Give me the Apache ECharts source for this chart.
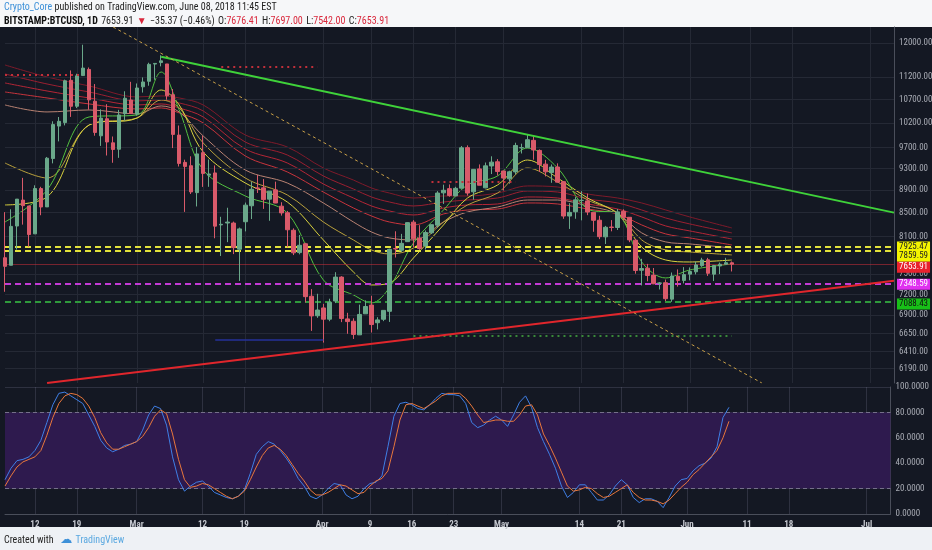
<!DOCTYPE html>
<html><head><meta charset="utf-8">
<script src="https://cdn.jsdelivr.net/npm/echarts@6/dist/echarts.min.js"></script>
<style>html,body{margin:0;padding:0;background:#141823}#c{width:932px;height:550px}</style>
</head><body><div id="c"></div>
<script>
// ---------- DATA ----------
const dates = [];
for (let t = Date.UTC(2018,1,7); t <= Date.UTC(2018,6,5); t += 86400000) dates.push(new Date(t).toISOString().slice(0,10));

const opens = [7755.49,7637.86,8271.84,8720.08,8616.13,8141.43,8926.72,8599.92,9488.32,10135.70,10207.50,11123.40,10552.60,11231.80,11372.20,10660.40,9937.07,10287.70,9796.42,9669.43,10393.90,10687.20,
10385.00,10977.40,11101.90,11497.40,11532.40,11500.10,10803.90,9951.44,9414.69,9350.59,8852.78,9602.93,9173.04,9214.65,8290.76,8322.91,8321.91,7890.52,8344.12,8619.67,8937.48,8939.44,8736.25,8901.95,8612.81,8498.47,8200.80,7836.83,7979.07,7171.45,6892.48,
7003.06,6844.86,7102.26,7456.41,6848.65,6815.96,6630.51,6919.98,7044.32,6795.44,6843.47,6955.38,7901.09,7874.67,8013.41,8337.57,8071.66,7944.43,8159.27,8286.88,8848.79,8925.06,8794.39,8934.01,9701.03,8867.32,9290.63,8939.27,9346.41,9426.11,
9251.47,9104.60,9233.97,9695.50,9700.28,9845.90,9645.67,9380.87,9223.73,9325.96,9052.96,8441.44,8515.49,8713.10,8705.19,8504.41,8370.05,8091.83,8255.73,8246.99,8522.33,8419.87,8037.08,7561.12,7592.30,7486.48,7362.08,7371.31,7129.46,7469.73,7406.15,
7500.70,7536.72,7632.09,7722.53,7500.90,7625.97,7653.08,7676.41];
const highs = [8509.11,8558.77,8736.98,9122.55,8616.13,8985.92,8958.47,9518.54,10234.80,10324.10,11139.50,11349.80,11273.80,11958.50,11418.50,11039.10,10487.30,10597.20,9923.22,10475.00,10878.50,11089.80,
11052.30,11189.00,11528.20,11512.60,11704.10,11500.10,10929.50,10147.40,9466.35,9531.32,9711.89,9937.50,9470.38,9355.85,8428.35,8585.15,8346.53,8245.51,8675.87,9051.02,9177.37,9100.71,8879.62,9052.96,8682.01,8530.08,8232.78,8122.89,7994.33,7276.24,7207.85,
7060.95,7135.47,7530.94,7469.88,6933.82,6857.49,7050.54,7111.56,7178.11,6872.41,6968.32,7899.23,8183.96,8140.71,8318.43,8371.15,8285.96,8197.80,8298.69,8880.23,8997.57,9001.64,8958.55,9732.61,9745.32,9281.51,9375.47,9412.09,9531.49,9477.14,
9255.88,9256.52,9798.33,9779.20,9964.50,9940.14,9665.85,9462.75,9374.76,9396.04,9052.96,8664.86,8773.55,8881.12,8836.19,8508.43,8445.54,8274.12,8372.06,8562.41,8557.52,8423.25,8054.66,7738.60,7659.14,7595.16,7381.74,7419.05,7526.42,7573.77,7608.90,
7604.73,7695.83,7754.89,7753.82,7643.23,7680.43,7753.99,7697.00];
const lows = [7236.79,7637.86,7884.71,8295.47,7931.10,8141.43,8455.41,8599.92,9395.58,9824.82,10149.40,10326.00,10513.20,11231.80,10479.10,9939.09,9734.56,9546.97,9407.06,9501.73,10246.10,10393.10,
10352.70,10850.10,11002.40,11136.10,11443.90,10694.30,9692.12,9335.87,8513.03,8828.47,8607.12,8956.43,8958.19,8068.59,7783.05,8005.25,7812.82,7397.99,8182.40,8389.89,8846.33,8564.90,8360.62,8665.64,8449.10,7921.43,7797.28,7809.17,7081.38,6683.93,6863.52,
6526.87,6816.58,7072.49,6803.88,6644.80,6575.00,6630.51,6919.98,6661.99,6704.15,6817.59,6806.51,7758.93,7846.00,8013.41,7925.73,7881.72,7886.01,8138.78,8244.54,8652.15,8779.61,8788.81,8927.47,8799.84,8727.09,8987.05,8931.99,9193.71,9166.81,
8891.05,9015.14,9188.15,9585.96,9695.12,9465.25,9231.53,9149.39,9031.62,9040.52,8394.33,8223.50,8395.11,8367.97,8456.45,8175.49,8054.12,7974.82,8183.35,8205.24,8365.12,8004.58,7507.88,7331.14,7392.65,7349.12,7270.96,7100.89,7090.68,7313.60,7361.13,
7407.34,7497.26,7613.04,7474.04,7397.00,7502.01,7653.08,7542.00];
const closes = [7621.30,8265.59,8736.98,8621.90,8129.97,8926.57,8598.31,9494.63,10166.40,10233.90,11112.70,10551.80,11225.30,11403.70,10690.40,10005.00,10301.10,9813.07,9664.73,10366.70,10725.60,10397.90,
10951.00,11086.40,11489.70,11512.60,11573.30,10779.90,9965.57,9395.01,9337.55,8866.00,9578.63,9205.12,9194.85,8269.81,8300.86,8338.35,7916.88,8223.68,8630.65,8913.47,8929.28,8728.47,8879.62,8668.12,8495.78,8209.40,7833.04,7954.48,7165.70,6890.52,6973.53,
6844.23,7083.80,7456.11,6853.84,6811.47,6636.32,6911.09,7023.52,6770.73,6834.76,6968.32,7889.25,7895.96,7986.24,8329.11,8058.67,7902.09,8163.42,8294.31,8845.83,8895.58,8802.46,8930.88,9697.50,8845.74,9281.51,8987.05,9348.48,9419.08,9240.55,
9119.01,9235.92,9743.86,9700.76,9858.15,9654.80,9373.01,9234.82,9325.18,9043.94,8441.49,8504.89,8723.94,8716.79,8510.38,8368.83,8094.32,8250.97,8247.18,8513.25,8418.99,8041.78,7557.82,7587.34,7480.14,7355.88,7368.22,7135.99,7472.59,7406.52,7494.17,
7541.45,7643.45,7720.25,7514.47,7633.76,7653.98,7678.24,7653.91];

// moving-average ribbon, read at key dates
const ribbonDates = ['2018-02-07','2018-02-14','2018-02-21','2018-03-01','2018-03-05','2018-03-08','2018-03-12','2018-03-19','2018-03-26','2018-04-01','2018-04-06','2018-04-09','2018-04-12','2018-04-16','2018-04-21','2018-04-25','2018-04-30','2018-05-05','2018-05-10','2018-05-15','2018-05-20','2018-05-24','2018-05-28','2018-06-01','2018-06-08'];
const maRed1 = [11476,11199,10997,10754,10776,10732,10580,9954,9713,9308,9083,8937,8846,8757,8793,8793,8846,8974,8955,8828,8757,8669,8546,8426,8240];
const maRed2 = [11268,11041,10863,10667,10688,10624,10452,9812,9557,9158,8918,8775,8686,8616,8686,8721,8757,8882,8864,8739,8669,8546,8408,8307,8157];
const maRed3 = [11064,10885,10732,10580,10602,10516,10325,9674,9403,9010,8757,8616,8529,8460,8581,8634,8651,8775,8757,8651,8563,8426,8273,8190,8057];
const maRed4 = [10863,10732,10602,10494,10516,10410,10200,9538,9233,8864,8581,8443,8340,8290,8477,8546,8563,8669,8651,8563,8477,8290,8140,8074,7960];
const maTan  = [10580,10431,10473,10389,10559,10431,9933,9270,9028,8669,8340,8173,8074,8041,8340,8512,8598,8721,8721,8616,8477,8157,8009,7976,7911];
const maOrange=[9403,9120,10158,10304,10688,10516,9793,9120,8811,8340,8041,7879,7815,7911,8340,8634,8846,9308,9046,8721,8495,8041,7879,7847,7800];
const maYellow=[8634,8775,10158,10304,10907,10580,9615,9028,8686,8041,7535,7338,7368,7752,8290,8757,8992,9460,9120,8757,8477,7928,7720,7689,7720];
const maGreen = [8340,8900,10325,10368,11313,10473,9270,8793,8494,7413,7190,7074,7300,7992,8546,8992,9158,9694,9308,8563,8477,7689,7443,7565,7658];

// stochastic RSI
const stochK = [27,36,42,43,45,50,58,72,86,95,96,93,90,87,78,69,58,52,49,51,54,55,57,66,78,85,83,70,45,27,18,22,25,26,22,17,15,13,12,14,19,32,47,53,57,55,50,44,37,28,22,14,12,15,20,24,23,15,12,14,20,24,25,30,53,77,87,88,86,83,82,86,91,95,94,94,93,87,72,68,70,74,77,74,69,78,88,93,84,68,57,47,36,22,13,17,23,23,17,11,11,15,22,27,23,13,9,12,12,10,5,13,22,27,28,34,38,40,44,53,76,84];
const stochD = [22,30,37,41,43,45,50,62,76,87,93,95,94,91,85,76,64,56,51,51,53,55,57,61,68,77,82,79,63,43,27,21,22,24,23,20,17,14,12,14,18,27,37,46,52,54,51,46,39,32,26,19,15,15,17,20,23,22,19,16,17,22,26,28,34,53,74,86,87,85,83,86,89,93,95,95,95,91,85,78,72,73,74,74,73,73,78,85,86,78,63,54,44,33,22,18,19,21,20,16,13,14,17,20,23,17,13,11,11,10,8,11,16,21,25,31,35,40,45,50,60,73];

// drawn lines
const trendDown = [['2018-03-05',11670],['2018-07-05',8500]];
const trendUp   = [['2018-02-14',6012],['2018-07-05',7400]];
const trendDotted=[['2018-02-25',12397],['2018-06-13',6012]];
const tdRed1 = [['2018-02-07',11244],['2018-02-20',11244]];
const tdRed2 = [['2018-03-15',11430],['2018-03-31',11430]];
const tdRed3 = [['2018-04-19',9047],['2018-05-03',9047]];
const tdGreen= [['2018-04-16',6616],['2018-06-08',6616]];
const tdBlue = [['2018-03-14',6561],['2018-04-01',6561]];
const levels = [7925.47, 7859.59, 7653.91, 7348.59, 7088.43];

// axis ticks
const priceTicks = [12000,11200,10700,10200,9700,9300,8900,8500,8100,7500,7200,6900,6650,6410,6190];
const tickDates = ['2018-02-12','2018-02-19','2018-03-01','2018-03-12','2018-03-19','2018-04-01','2018-04-09','2018-04-16','2018-04-23','2018-05-01','2018-05-14','2018-05-21','2018-06-01','2018-06-11','2018-06-18','2018-07-01'];
const tickTexts = ['12','19','Mar','12','19','Apr','9','16','23','May','14','21','Jun','11','18','Jul'];

// ---------- CHART ----------
const FONT = '"Liberation Sans Narrow","Roboto Condensed","Liberation Sans",sans-serif';
const GRID = '#252935';
const tickMap = {}; tickDates.forEach((d,i)=>tickMap[d]=tickTexts[i]);
const isTick = (i, v) => tickMap[v] !== undefined;

const candles = closes.map((c,i)=>[opens[i], c, lows[i], highs[i]]);
const pair = (arr) => ribbonDates.map((d,i)=>[d, arr[i]]);

function ma(name, arr, color){
  return {name, type:'line', xAxisIndex:0, yAxisIndex:0, data: pair(arr), smooth:0.35, symbol:'none',
    lineStyle:{color, width:1}, z:4, silent:true, animation:false};
}
function seg(name, data, color, type, width, z){
  return {name, type:'line', xAxisIndex:0, yAxisIndex:0, data, symbol:'none',
    lineStyle:{color, type, width}, z: z||6, silent:true, animation:false};
}
const levelStyles = [
  {color:'#e3e33a', type:[6,4], width:2},
  {color:'#e3e33a', type:[6,4], width:2},
  {color:'rgba(200,48,58,0.55)', type:'solid', width:1},
  {color:'#c23ad4', type:[6,4], width:2},
  {color:'#2f9a3c', type:[6,4], width:2}
];

const chart = echarts.init(document.getElementById('c'));
const option = {
  backgroundColor:'#141823',
  animation:false,
  grid:[
    {left:5, right:38, top:27, height:356},
    {left:5, right:38, top:387, height:127}
  ],
  xAxis:[
    {type:'category', gridIndex:0, data:dates, boundaryGap:false,
     axisLine:{show:false}, axisTick:{show:false}, axisLabel:{show:false},
     splitLine:{show:true, interval:isTick, lineStyle:{color:GRID}}},
    {type:'category', gridIndex:1, data:dates, boundaryGap:false,
     axisLine:{show:true, lineStyle:{color:'#4a4e5a'}}, axisTick:{show:false},
     axisLabel:{interval:isTick, formatter:(v)=>tickMap[v]||'', color:'#c3c6ce', fontSize:9, fontWeight:'bold', fontFamily:FONT, margin:6},
     splitLine:{show:true, interval:isTick, lineStyle:{color:'rgba(140,140,170,0.22)'}}}
  ],
  yAxis:[
    {type:'log', logBase:10, gridIndex:0, min:6012, max:12397, position:'right',
     axisLine:{show:true, lineStyle:{color:'#4a4e5a'}}, axisTick:{show:false}, axisLabel:{show:false}, splitLine:{show:false}},
    {type:'value', gridIndex:1, min:0, max:100, interval:20, position:'right',
     axisLine:{show:true, lineStyle:{color:'#4a4e5a'}}, axisTick:{show:false},
     axisLabel:{formatter:(v)=>v.toFixed(4), color:'#a9acb5', fontSize:9, fontFamily:FONT, margin:5},
     splitLine:{show:true, lineStyle:{color:'rgba(140,140,170,0.22)'}}}
  ],
  series:[
    {name:'grid', type:'line', xAxisIndex:0, yAxisIndex:0, data:[], z:1, silent:true,
     markLine:{symbol:['none','none'], silent:true, animation:false,
       data: priceTicks.map(v=>({yAxis:v})),
       lineStyle:{color:GRID, width:1, type:'solid'},
       label:{show:true, position:'end', distance:5, formatter:(p)=>Number(p.value).toFixed(2), color:'#a9acb5', fontSize:9, fontFamily:FONT}}},
    ma('r1', maRed1, '#7e1a2a'),
    ma('r2', maRed2, '#9a1f30'),
    ma('r3', maRed3, '#b42636'),
    ma('r4', maRed4, '#c8343c'),
    ma('tan', maTan, '#b98272'),
    ma('orange', maOrange, '#b9a03c'),
    ma('yellow', maYellow, '#d9d23e'),
    ma('green', maGreen, '#52c040'),
    {name:'BTCUSD', type:'candlestick', xAxisIndex:0, yAxisIndex:0, data:candles, barWidth:4, z:5,
     itemStyle:{color:'#6aa88a', color0:'#d95a6a', borderColor:'#6aa88a', borderColor0:'#d95a6a', borderWidth:1}},
    seg('trendDown', trendDown, '#3fd23a', 'solid', 2, 7),
    seg('trendUp', trendUp, '#e0262c', 'solid', 2, 7),
    seg('trendDotted', trendDotted, '#c9a048', [3,3], 1, 7),
    seg('tdRed1', tdRed1, '#c0303a', [2,4], 2),
    seg('tdRed2', tdRed2, '#c0303a', [2,4], 2),
    seg('tdRed3', tdRed3, '#c0303a', [2,4], 2),
    seg('tdGreen', tdGreen, '#3a8a3a', [2,4], 2),
    seg('tdBlue', tdBlue, '#24309a', 'solid', 1.5),
    {name:'levels', type:'line', xAxisIndex:0, yAxisIndex:0, data:[], z:6, silent:true,
     markLine:{symbol:['none','none'], silent:true, animation:false, label:{show:false},
       data: levels.map((v,i)=>({yAxis:v, lineStyle:levelStyles[i]}))}},
    {name:'K', type:'line', xAxisIndex:1, yAxisIndex:1, data:stochK, symbol:'none', lineStyle:{color:'#3f7fe6', width:1}, z:5,
     markArea:{silent:true, itemStyle:{color:'#2e1a4e'}, data:[[{yAxis:20},{yAxis:80}]]},
     markLine:{symbol:['none','none'], silent:true, label:{show:false}, lineStyle:{color:'#75708a', type:[4,3], width:1}, data:[{yAxis:20},{yAxis:80}]}},
    {name:'D', type:'line', xAxisIndex:1, yAxisIndex:1, data:stochD, symbol:'none', lineStyle:{color:'#e8773c', width:1}, z:5}
  ],
  graphic:[
    {type:'rect', shape:{x:0,y:0,width:932,height:27}, style:{fill:'#f6f7f9'}, z:-5},
    {type:'rect', shape:{x:0,y:527,width:932,height:23}, style:{fill:'#eef1f5'}, z:-5},
    {type:'text', x:4, y:2, style:{text:'{a|Crypto_Core}{n| published on TradingView.com, June 08, 2018 11:45 EST}',
      rich:{a:{fill:'#3d90d8', fontSize:10, fontFamily:FONT}, n:{fill:'#222', fontSize:10, fontFamily:FONT}}}},
    {type:'text', x:4, y:15, style:{text:'{b|BITSTAMP:BTCUSD, 1D} {n|7653.91} {r|▼} {n|−35.37 (−0.46%)} {n|O:}{r|7676.41} {n|H:}{r|7697.00} {n|L:}{r|7542.00} {n|C:}{r|7653.91}',
      rich:{b:{fill:'#111', fontSize:10, fontWeight:'bold', fontFamily:FONT}, n:{fill:'#222', fontSize:10, fontFamily:FONT}, r:{fill:'#d9283c', fontSize:10, fontFamily:FONT}}}},
    {type:'text', x:4, y:534, style:{text:'{n|Created with}  {l|☁} {t|TradingView}',
      rich:{n:{fill:'#222', fontSize:10, fontFamily:FONT}, l:{fill:'#3d90d8', fontSize:12, fontFamily:'DejaVu Sans'}, t:{fill:'#5aa8e0', fontSize:10, fontFamily:FONT}}}}
  ]
};
chart.setOption(option);

// colored price tags on the right axis, positioned through the y scale
const tagStyles = [
  {bg:'#f4f400', fg:'#222', dy:0},
  {bg:'#f4f400', fg:'#222', dy:5},
  {bg:'#e8222e', fg:'#fff', dy:3},
  {bg:'#e030f0', fg:'#fff', dy:0},
  {bg:'#18c018', fg:'#111', dy:2}
];
const tags = levels.map((v,i)=>{
  const y = chart.convertToPixel({yAxisIndex:0}, v) + tagStyles[i].dy;
  return {type:'text', x:897, y:y, z:20, style:{text:v.toFixed(2), fill:tagStyles[i].fg, backgroundColor:tagStyles[i].bg,
    padding:[1,2,1,2], fontSize:9, fontFamily:FONT, verticalAlign:'middle', align:'left'}};
});
chart.setOption({graphic: option.graphic.concat(tags)});
</script></body></html>
